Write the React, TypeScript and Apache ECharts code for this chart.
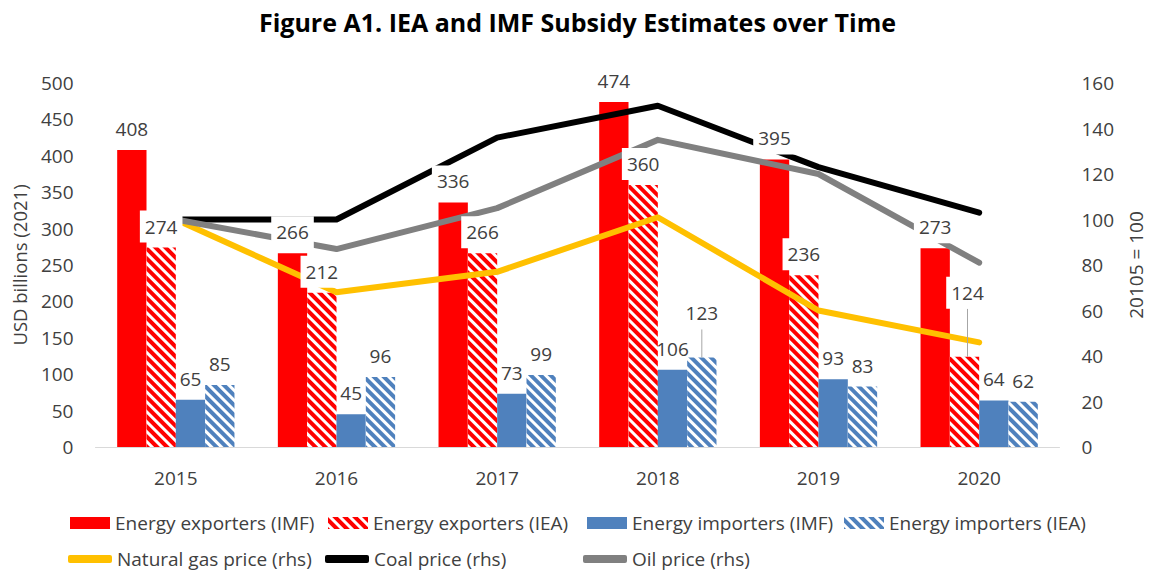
import React, { useEffect, useRef } from 'react';
import * as echarts from 'echarts';

const years = ['2015', '2016', '2017', '2018', '2019', '2020'];
const exportersIMF = [408, 266, 336, 474, 395, 273];
const exportersIEA = [274, 212, 266, 360, 236, 124];
const importersIMF = [65, 45, 73, 106, 93, 64];
const importersIEA = [85, 96, 99, 123, 83, 62];
const gasPrice = [100, 68, 77, 101, 60, 46];
const coalPrice = [100, 100, 136, 150, 123, 103];
const oilPrice = [100, 87, 105, 135, 120, 81];

const N_EXP_IMF = 'Energy exporters (IMF)';
const N_EXP_IEA = 'Energy exporters (IEA)';
const N_IMP_IMF = 'Energy importers (IMF)';
const N_IMP_IEA = 'Energy importers (IEA)';
const N_GAS = 'Natural gas price (rhs)';
const N_COAL = 'Coal price (rhs)';
const N_OIL = 'Oil price (rhs)';

const FONT = "'Open Sans', 'Noto Sans', sans-serif";
const TXT = '#404040';
const RED = '#FF0000';
const BLUE = '#4F81BD';
const GOLD = '#FFC000';
const GREY = '#808080';

const hatch = (color: string) => ({
  symbol: 'rect',
  symbolSize: 1,
  color,
  backgroundColor: '#ffffff',
  dashArrayX: [1, 0],
  dashArrayY: [4, 3],
  rotation: Math.PI / 4,
});

const barBase = {
  type: 'bar',
  yAxisIndex: 0,
  barGap: '0%',
  barCategoryGap: '27%',
  stackStrategy: 'all',
  z: 2,
};

const labelSeries = (
  stack: string,
  values: number[],
  withBg: boolean,
  moves: Record<number, { dx?: number; dy?: number }>
) => ({
  ...barBase,
  name: '_lbl_' + stack,
  stack,
  z: 6,
  silent: true,
  itemStyle: { color: 'rgba(0,0,0,0)' },
  data: values.map((_, i) =>
    moves[i]
      ? { value: 0, labelLine: { show: true, lineStyle: { color: '#A6A6A6', width: 1 } } }
      : 0
  ),
  label: {
    show: true,
    position: 'top',
    distance: 5,
    formatter: (p: any) => String(values[p.dataIndex]),
    color: TXT,
    fontSize: 19,
    fontFamily: FONT,
    lineHeight: 22,
    padding: [5, 5],
    backgroundColor: withBg ? '#ffffff' : 'transparent',
  },
  labelLayout: (p: any) => ({ ...(moves[p.dataIndex] || {}) }),
});

const legendItem = (name: string, left: number, top: number, line: boolean) => ({
  data: [line ? { name, icon: 'roundRect' } : { name, icon: 'rect' }],
  left,
  top,
  padding: 0,
  itemWidth: line ? 44 : 40,
  itemHeight: line ? 8 : 12,
  selectedMode: false,
  textStyle: { fontSize: 19, fontFamily: FONT, color: TXT, lineHeight: 20 },
});

export default function App() {
  const ref = useRef<HTMLDivElement>(null);
  useEffect(() => {
    if (!ref.current) return;
    const chart = echarts.init(ref.current, null, { renderer: 'svg' });
    const lineSeries = (name: string, data: number[], color: string) => ({
      type: 'line',
      name,
      yAxisIndex: 1,
      data,
      symbol: 'none',
      z: 4,
      lineStyle: { color, width: 6, cap: 'round', join: 'round' },
      itemStyle: { color },
    });
    chart.setOption({
      animation: false,
      backgroundColor: '#ffffff',
      title: {
        text: 'Figure A1. IEA and IMF Subsidy Estimates over Time',
        left: 'center',
        top: 7,
        padding: 0,
        textStyle: { fontSize: 25, fontWeight: 'bold', fontFamily: FONT, color: '#000000', lineHeight: 30 },
      },
      legend: [
        legendItem(N_EXP_IMF, 70, 513, false),
        legendItem(N_EXP_IEA, 328, 513, false),
        legendItem(N_IMP_IMF, 587, 513, false),
        legendItem(N_IMP_IEA, 844, 513, false),
        legendItem(N_GAS, 68, 549, true),
        legendItem(N_COAL, 325, 549, true),
        legendItem(N_OIL, 583, 549, true),
      ],
      grid: { left: 95, right: 90, top: 83, bottom: 127, containLabel: false },
      xAxis: {
        type: 'category',
        data: years,
        axisLine: { lineStyle: { color: '#D9D9D9', width: 1 } },
        axisTick: { show: false },
        axisLabel: { margin: 19, fontSize: 19, fontFamily: FONT, color: TXT, lineHeight: 24 },
      },
      yAxis: [
        {
          type: 'value',
          min: 0,
          max: 500,
          interval: 50,
          splitLine: { show: false },
          axisLine: { show: false },
          axisTick: { show: false },
          axisLabel: { margin: 22, fontSize: 19, fontFamily: FONT, color: TXT },
          name: 'USD billions (2021)',
          nameLocation: 'middle',
          nameGap: 64,
          nameTextStyle: { fontSize: 18.5, fontFamily: FONT, color: TXT, lineHeight: 22 },
        },
        {
          type: 'value',
          min: 0,
          max: 160,
          interval: 20,
          splitLine: { show: false },
          axisLine: { show: false },
          axisTick: { show: false },
          axisLabel: { margin: 22, fontSize: 19, fontFamily: FONT, color: TXT },
          name: '20105 = 100',
          nameLocation: 'middle',
          nameGap: 64,
          nameTextStyle: { fontSize: 19, fontFamily: FONT, color: TXT, lineHeight: 22 },
        },
      ],
      series: [
        { ...barBase, name: N_EXP_IMF, stack: 'a', data: exportersIMF, itemStyle: { color: RED } },
        { ...barBase, name: N_EXP_IEA, stack: 'b', data: exportersIEA, itemStyle: { color: '#ffffff', decal: hatch(RED) } },
        { ...barBase, name: N_IMP_IMF, stack: 'c', data: importersIMF, itemStyle: { color: BLUE } },
        { ...barBase, name: N_IMP_IEA, stack: 'd', data: importersIEA, itemStyle: { color: '#ffffff', decal: hatch(BLUE) } },
        lineSeries(N_GAS, gasPrice, GOLD),
        lineSeries(N_COAL, coalPrice, '#000000'),
        lineSeries(N_OIL, oilPrice, GREY),
        labelSeries('a', exportersIMF, true, {}),
        labelSeries('b', exportersIEA, true, { 5: { dx: 3, dy: -43 } }),
        labelSeries('c', importersIMF, false, {}),
        labelSeries('d', importersIEA, false, { 3: { dy: -23 } }),
      ],
    });
    return () => chart.dispose();
  }, []);
  return (
    <div
      ref={ref}
      style={{ position: 'fixed', left: 0, top: 0, width: 1155, height: 574, background: '#ffffff' }}
    />
  );
}
